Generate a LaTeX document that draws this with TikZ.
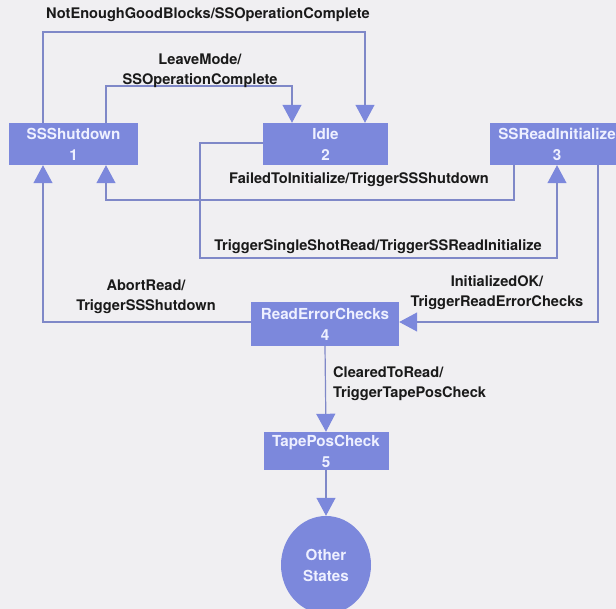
\documentclass[tikz,border=0pt]{standalone}
\usepackage{fontspec}
\setmainfont{TeX Gyre Heros}
\usetikzlibrary{arrows.meta,shapes.geometric}
\definecolor{bgc}{HTML}{F0EFF2}
\definecolor{boxc}{HTML}{7C88DC}
\definecolor{linec}{HTML}{7F88C8}
\definecolor{boxtext}{HTML}{EEF0FF}
\definecolor{labc}{HTML}{1A1A1A}
\tikzset{
  statebox/.style={draw=none, fill=boxc, text=boxtext, inner sep=0pt,
    font=\fontsize{15.2}{21}\selectfont\bfseries, align=center},
  conn/.style={draw=linec, line width=1.2pt,
    arrows={-Triangle[width=19pt,length=18pt,color=boxc,fill=boxc]}},
  lab/.style={text=labc, inner sep=0pt, font=\fontsize{14.6}{20}\selectfont\bfseries, align=center}
}
\begin{document}
\begin{tikzpicture}[x=1pt,y=-1pt]
\useasboundingbox (0,0) rectangle (616,609);
\fill[bgc] (0,0) rectangle (616,609);
\begin{scope}
\clip (0,0) rectangle (616,609);
% states
\node[statebox, minimum width=129pt, minimum height=42pt] (s1) at (73.5,144) {SSShutdown\\1};
\node[statebox, minimum width=125pt, minimum height=42pt] (s2) at (325.5,144) {Idle\\2};
\node[statebox, minimum width=134pt, minimum height=42pt] (s3) at (557,144) {SSReadInitialize\\3};
\node[statebox, minimum width=148pt, minimum height=44pt] (s4) at (325,324) {ReadErrorChecks\\4};
\node[statebox, minimum width=125pt, minimum height=38pt] (s5) at (326,451) {TapePosCheck\\5};
\node[statebox, ellipse, minimum width=90pt, minimum height=98pt] (s6) at (326,565) {Other\\States};

% route points
\coordinate (t1) at (43,32);
\coordinate (t2) at (365,32);
\coordinate (l1) at (106,86);
\coordinate (l2) at (292,86);
\coordinate (f1) at (514,200);
\coordinate (f2) at (106,200);
\coordinate (g1) at (200,143);
\coordinate (g2) at (200,258);
\coordinate (g3) at (557,258);
\coordinate (i1) at (598,322);
\coordinate (a1) at (43,322);

% connectors
\draw[conn] (s1.north -| t1) -- (t1) -- (t2) -- (s2.north -| t2);
\draw[conn] (s1.north -| l1) -- (l1) -- (l2) -- (s2.north -| l2);
\draw[conn] (s3.south -| f1) -- (f1) -- (f2) -- (s1.south -| f2);
\draw[conn] (s2.west |- g1) -- (g1) -- (g2) -- (g3) -- (s3.south -| g3);
\draw[conn] (s3.south -| i1) -- (i1) -- (s4.east |- i1);
\draw[conn] (s4.west |- a1) -- (a1) -- (s1.south -| a1);
\draw[conn] (s4.south) -- (s5.north);
\draw[conn] (s5.south) -- (s6.north);

% labels
\node[lab] (lb1) at (208,15) {NotEnoughGoodBlocks/SSOperationComplete};
\node[lab] (lb2) at (200,71) {LeaveMode/\\SSOperationComplete};
\node[lab] (lb3) at (359,180) {FailedToInitialize/TriggerSSShutdown};
\node[lab] (lb4) at (378,247) {TriggerSingleShotRead/TriggerSSReadInitialize};
\node[lab] (lb5) at (497,293) {InitializedOK/\\TriggerReadErrorChecks};
\node[lab] (lb6) at (146,297) {AbortRead/\\TriggerSSShutdown};
\node[lab, align=left, anchor=west] (lb7) at (333,384) {ClearedToRead/\\TriggerTapePosCheck};
\end{scope}
\end{tikzpicture}
\end{document}
